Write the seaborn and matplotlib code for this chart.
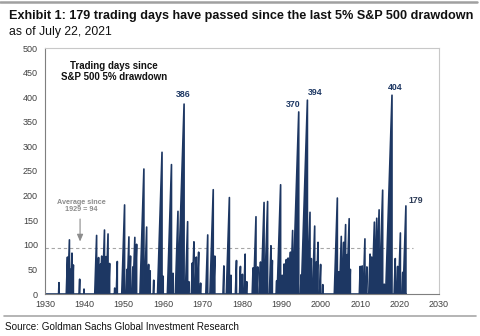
import matplotlib
matplotlib.use("Agg")
import matplotlib.pyplot as plt
import seaborn as sns
import pandas as pd
import numpy as np

sns.set_theme(style="white")
plt.rcParams['font.family'] = ['Liberation Sans', 'DejaVu Sans']

# Each rise: start year (counter at 0), peak year, trading days at peak
rise_start = [1933.45, 1935.40, 1935.76, 1936.30, 1936.52, 1936.97, 1938.68, 1939.86,
              1942.63, 1943.31, 1943.86, 1944.09, 1944.58, 1945.20, 1945.52, 1946.15,
              1947.65, 1948.09, 1949.48, 1950.60, 1950.84, 1951.40, 1952.08, 1952.34,
              1952.85, 1954.10, 1955.26, 1956.06, 1956.51, 1957.49, 1958.56, 1959.86,
              1961.06, 1962.33, 1963.08, 1963.77, 1965.62, 1966.40, 1967.15, 1967.38,
              1968.10, 1968.66, 1969.41, 1970.82, 1971.86, 1972.80, 1975.17, 1976.02,
              1977.05, 1978.33, 1979.38, 1979.94, 1980.48, 1981.10, 1982.59, 1982.93,
              1983.78, 1984.44, 1984.86, 1985.75, 1986.96, 1987.43, 1988.70, 1988.92,
              1990.05, 1990.46, 1990.97, 1991.41, 1991.96, 1992.34, 1992.93, 1994.85,
              1995.04, 1996.60, 1997.31, 1997.90, 1998.59, 1998.88, 1999.71, 2000.43,
              2003.43, 2004.42, 2004.74, 2005.38, 2005.74, 2006.38, 2006.60, 2007.30,
              2009.78, 2010.27, 2010.76, 2011.48, 2012.18, 2012.60, 2013.02, 2013.59,
              2014.12, 2014.63, 2014.86, 2016.43, 2016.47, 2018.61, 2019.28, 2019.71,
              2020.63, 2020.89]
peak_year = [1933.55, 1935.70, 1936.20, 1936.50, 1936.85, 1937.20, 1938.80, 1939.90,
             1943.10, 1943.60, 1944.10, 1944.40, 1945.10, 1945.50, 1946.00, 1946.40,
             1947.70, 1948.35, 1950.20, 1950.80, 1951.30, 1951.70, 1952.30, 1952.80,
             1953.25, 1955.10, 1955.80, 1956.30, 1956.70, 1957.60, 1959.70, 1960.00,
             1962.10, 1962.50, 1963.75, 1965.30, 1966.20, 1966.50, 1967.40, 1967.80,
             1968.40, 1969.00, 1969.50, 1971.30, 1972.70, 1973.10, 1975.40, 1976.80,
             1977.20, 1978.60, 1979.60, 1980.10, 1980.80, 1981.20, 1982.80, 1983.55,
             1984.00, 1984.70, 1985.60, 1986.50, 1987.35, 1987.70, 1988.80, 1989.80,
             1990.20, 1990.70, 1991.25, 1991.70, 1992.30, 1992.85, 1994.40, 1995.00,
             1996.60, 1997.26, 1997.60, 1998.45, 1998.85, 1999.30, 1999.95, 2000.50,
             2004.20, 2004.60, 2005.20, 2005.80, 2006.30, 2006.70, 2007.20, 2007.50,
             2010.00, 2010.50, 2011.20, 2011.70, 2012.50, 2012.90, 2013.60, 2014.20,
             2014.80, 2014.95, 2015.70, 2016.10, 2018.07, 2018.90, 2019.50, 2020.20,
             2020.80, 2021.60]
peak_days = [23, 75, 110, 50, 83, 59, 30, 10,
             119, 74, 61, 77, 130, 76, 122, 62,
             12, 66, 181, 50, 116, 77, 55, 115,
             101, 254, 136, 60, 47, 28, 288, 36,
             263, 42, 168, 386, 147, 25, 63, 106,
             75, 85, 22, 120, 212, 77, 57, 196,
             38, 68, 56, 40, 81, 25, 53, 157,
             55, 65, 186, 188, 98, 68, 27, 222,
             38, 61, 70, 73, 85, 129, 370, 39,
             394, 166, 72, 138, 65, 105, 60, 19,
             195, 45, 117, 105, 141, 80, 153, 50,
             56, 57, 112, 55, 81, 75, 146, 154,
             171, 80, 211, 20, 404, 72, 56, 124,
             44, 179]

labelled_years = [1965.30, 1994.40, 1996.60, 2018.07, 2021.60]
labelled_days = [386, 370, 394, 404, 179]
average_days = 94

x_ticks = list(range(1930, 2031, 10))
y_ticks = list(range(0, 501, 50))

navy = "#1d3763"

# Build the sawtooth outline from the rise lists
xs, ys = [1930.0], [0]
for s, p, d in zip(rise_start, peak_year, peak_days):
    xs += [s, p, p]
    ys += [0, d, 0]
xs.append(2021.62)
ys.append(0)
df = pd.DataFrame({"year": xs, "days": ys})

fig = plt.figure(figsize=(4.8, 3.36), dpi=100)
ax = fig.add_axes([45/480, 1-294/336, (439-45)/480, (294-48)/336])

ax.fill(df["year"], df["days"], color=navy, lw=0)
sns.lineplot(data=df, x="year", y="days", sort=False, estimator=None,
             color=navy, lw=1.2, ax=ax)

ax.axhline(average_days, xmin=0, xmax=(2023.3-1930)/100, color="#a6a6a6",
           ls=(0, (3, 2.5)), lw=0.8, zorder=0)

ax.set_xlim(1930, 2030)
ax.set_ylim(0, 500)
ax.set_xticks(x_ticks)
ax.set_yticks(y_ticks)
ax.set_xlabel("")
ax.set_ylabel("")
ax.tick_params(axis="both", labelsize=6.5, colors="#404040", length=2, width=0.6,
               pad=2)
ax.tick_params(axis="y", length=0, pad=5)
for side in ["top", "right"]:
    ax.spines[side].set_color("#c8c8c8")
    ax.spines[side].set_linewidth(0.8)
for side in ["left", "bottom"]:
    ax.spines[side].set_color("#7f7f7f")
    ax.spines[side].set_linewidth(0.8)

offsets = [(-0.3, 20), (-1.4, 16), (1.9, 16), (0.7, 15), (2.5, 12)]
for (yr, d), (dx, dy) in zip(zip(labelled_years, labelled_days), offsets):
    ax.text(yr + dx, d + dy, f"{d}", ha="center", va="center", fontsize=6.3,
            fontweight="bold", color="#1d3763" if d != 179 else "#2b3a55")

ax.text(1947.5, 452, "Trading days since\nS&P 500 5% drawdown", ha="center",
        va="center", fontsize=7, fontweight="bold", color="#111111",
        linespacing=1.05)
ax.text(1939.3, 179, f"Average since\n1929 = {average_days}", ha="center",
        va="center", fontsize=5.2, fontweight="bold", color="#8c8c8c",
        linespacing=1.1)
ax.annotate("", xy=(1938.9, 101), xytext=(1938.9, 158),
            arrowprops=dict(arrowstyle="-|>,head_length=0.35,head_width=0.15",
                            color="#8c8c8c", lw=0.8))

fig.text(9/480, 1-16/336,
         "Exhibit 1: 179 trading days have passed since the last 5% S&P 500 drawdown",
         ha="left", va="center", fontsize=9.1, fontweight="bold", color="#111111")
fig.text(9/480, 1-32/336, "as of July 22, 2021", ha="left", va="center",
         fontsize=8.8, color="#111111")
fig.text(5/480, 1-327/336, "Source: Goldman Sachs Global Investment Research",
         ha="left", va="center", fontsize=7.1, color="#111111")

fig.add_artist(plt.Line2D([0, 477/480], [1-1.5/336, 1-1.5/336],
                          transform=fig.transFigure, color="#a0a0a0", lw=1.8))
fig.add_artist(plt.Line2D([4/480, 476/480], [1-316/336, 1-316/336],
                          transform=fig.transFigure, color="#a8a8a8", lw=1.2))

fig.savefig("out.png", dpi=100)
